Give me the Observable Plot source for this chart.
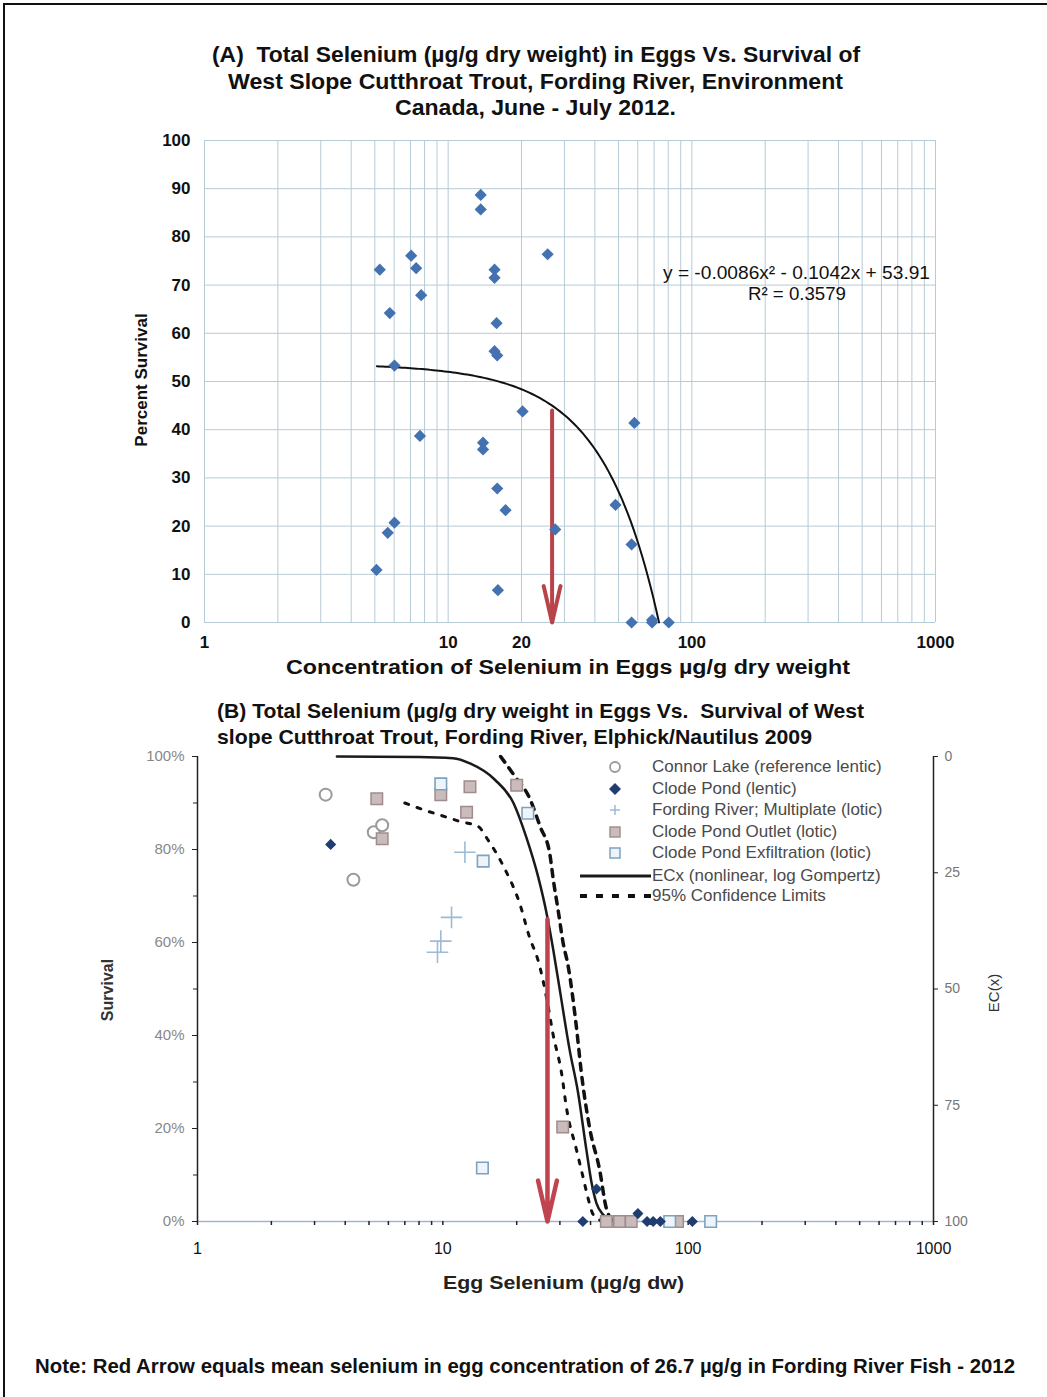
<!DOCTYPE html>
<html>
<head>
<meta charset="utf-8">
<script src="https://cdn.jsdelivr.net/npm/d3@7"></script>
<script src="https://cdn.jsdelivr.net/npm/@observablehq/plot@0.6"></script>
<style>
  html, body { margin:0; padding:0; background:#fff; }
  body { width:1047px; height:1397px; position:relative; overflow:hidden; font-family:"Liberation Sans", Arial, sans-serif; }
  .abs { position:absolute; white-space:nowrap; }
  .fit { position:absolute; white-space:nowrap; font-family:"Liberation Sans", Arial, sans-serif; font-weight:bold; color:#111; line-height:1.1; }
  .legrow { position:absolute; left:575px; height:20px; display:flex; align-items:center; font-size:17px; color:#4a4a4a; }
  .legrow svg { display:block; }
</style>
</head>
<body>
<div class="abs" style="left:3px;top:3px;width:1044px;height:1394px;border-top:2px solid #111;border-left:2px solid #111;"></div>

<!-- Panel A titles (fit: left edge, target width, center y) -->
<div class="fit" data-x="212" data-w="648" data-y="55" style="font-size:22px;">(A)&nbsp; Total Selenium (µg/g dry weight) in Eggs Vs. Survival of</div>
<div class="fit" data-x="228" data-w="615" data-y="82" style="font-size:22px;">West Slope Cutthroat Trout, Fording River, Environment</div>
<div class="fit" data-x="395" data-w="281" data-y="108" style="font-size:22px;">Canada, June - July 2012.</div>
<div id="chartA" class="abs" style="left:0;top:120px;"></div>
<div class="fit" data-x="663" data-w="267" data-y="273" style="font-size:19px;font-weight:normal;">y = -0.0086x² - 0.1042x + 53.91</div>
<div class="fit" data-x="748" data-w="98" data-y="294" style="font-size:19px;font-weight:normal;">R² = 0.3579</div>
<div class="fit" data-x="286" data-w="564" data-y="667" style="font-size:20px;">Concentration of Selenium in Eggs µg/g dry weight</div>
<div class="abs" style="left:142px;top:380px;transform:translate(-50%,-50%) rotate(-90deg);font-size:17px;font-weight:bold;color:#111;">Percent Survival</div>

<!-- Panel B -->
<div class="fit" data-x="217" data-w="647" data-y="711" style="font-size:21px;">(B) Total Selenium (µg/g dry weight in Eggs Vs.&nbsp; Survival of West</div>
<div class="fit" data-x="217" data-w="595" data-y="737" style="font-size:21px;">slope Cutthroat Trout, Fording River, Elphick/Nautilus 2009</div>
<div id="chartB" class="abs" style="left:0;top:745px;"></div>
<div id="legendB"></div>
<div class="fit" data-x="443" data-w="241" data-y="1283" style="font-size:19px;color:#222;">Egg Selenium (µg/g dw)</div>
<div class="abs" style="left:108px;top:990px;transform:translate(-50%,-50%) rotate(-90deg);font-size:16px;font-weight:bold;color:#333;">Survival</div>
<div class="abs" style="left:993px;top:993px;transform:translate(-50%,-50%) rotate(-90deg);font-size:15px;color:#333;">EC(x)</div>

<div class="fit" data-x="35" data-w="980" data-y="1366" style="font-size:21px;">Note: Red Arrow equals mean selenium in egg concentration of 26.7 µg/g in Fording River Fish - 2012</div>

<script>
// ---------------- Panel A data ----------------
const aX = [5.24,5.76,6.02,7.05,7.39,7.75,7.66,5.08,5.65,6.02,13.6,13.6,15.5,15.5,15.8,15.5,15.9,20.2,13.9,13.9,15.9,17.2,16.0,25.6,27.5,58.1,48.6,56.6,56.6,68.7,68.7,80.4];
const aY = [73.2,64.2,53.3,76.1,73.5,67.9,38.7,10.9,18.6,20.7,88.7,85.7,73.2,71.5,62.1,56.3,55.4,43.8,37.3,35.9,27.8,23.3,6.7,76.4,19.3,41.4,24.4,16.2,0,0.5,0,0];
const aXTickLabels = [1,10,20,50,100,1000];
const aYTicks = [0,10,20,30,40,50,60,70,80,90,100];
const trendCoef = [-0.0086, -0.1042, 53.91];   // y = a x^2 + b x + c (printed trendline)
const trendRange = [5.1, 73.35];
const meanSe = 26.7;
const arrowTopA = 44;

// ---------------- Panel B data ----------------
const connorX = [3.33,4.32,5.23,5.66];
const connorY = [91.8,73.5,83.7,85.2];
const clodeX = [3.49,37.2,42.3,62.4,68,72,77,104];
const clodeY = [81.1,0,7.0,1.7,0,0,0,0];
const fordingX = [12.3,10.85,9.81,9.51];
const fordingY = [79.4,65.4,60.3,57.9];
const outletX = [5.38,5.66,9.81,12.9,12.5,20.0,30.8,46.4,52.5,58.6,90.5];
const outletY = [90.9,82.3,91.8,93.5,88.0,93.8,20.3,0,0,0,0];
const exfilX = [9.81,22.2,14.6,14.5,84.1,123.5];
const exfilY = [94.1,87.8,77.5,11.5,0,0];
const ecxX = [3.7,8,11,12.9,16.3,19.4,21.9,24.5,26.5,28.2,30,32.9,35.5,38.5,40.5,42.3,45,48,57];
const ecxY = [100,99.9,99.6,98.5,95,90,82.6,74,66.2,58.4,49.7,36.8,28,15.3,8,3.9,1.5,0.5,0];
const upperX = [17.2,19.5,22.6,24.9,27.3,28.2,29.5,30.9,32.4,35,36.7,39.7,43.6,46.3,49];
const upperY = [100,96,91,85,79,73.5,67,60,55,42,32,20,11,3,0.3];
const lowerX = [7.0,8.5,10,11.8,13.9,15.3,17.9,20.6,22.6,24.5,26.5,28.1,30.5,31.9,35.1,37.3,39,41,44];
const lowerY = [90,88.4,87.2,86,85,82,75.8,68.3,61,56,48,40.4,31.8,24.5,15.3,9.5,5.2,1.5,0.2];
const bXTickLabels = [1,10,100,1000];
const bYTicks = [0,20,40,60,80,100];
const bYMinor = [0,10,20,30,40,50,60,70,80,90,100];
const ecTicks = [0,25,50,75,100];
const arrowTopB = 65;
const legendItems = ["Connor Lake (reference lentic)","Clode Pond (lentic)","Fording River; Multiplate (lotic)","Clode Pond Outlet (lotic)","Clode Pond Exfiltration (lotic)","ECx (nonlinear, log Gompertz)","95% Confidence Limits"];

// ---------------- fit text blocks to the reference widths ----------------
document.querySelectorAll(".fit").forEach(el => {
  const w = el.getBoundingClientRect().width, h = el.getBoundingClientRect().height;
  const s = (+el.dataset.w) / w;
  el.style.left = el.dataset.x + "px";
  el.style.top = (+el.dataset.y - h / 2) + "px";
  el.style.transformOrigin = "0 50%";
  el.style.transform = "scaleX(" + s + ")";
});

// ---------------- build tables ----------------
const zip = (xs, ys) => xs.map((x, i) => ({x, y: ys[i]}));
const ptsA = zip(aX, aY);
const logTicks = d3.scaleLog().domain([1, 1000]).ticks();
const trend = d3.range(0, 101).map(i => {
  const x = trendRange[0] * Math.pow(trendRange[1] / trendRange[0], i / 100);
  return {x, y: Math.max(0, trendCoef[0]*x*x + trendCoef[1]*x + trendCoef[2])};
});

const gridColor = "#b6cbd5";
const chartA = Plot.plot({
  width: 1047, height: 560,
  marginLeft: 204, marginRight: 112, marginTop: 20, marginBottom: 58,
  x: {type: "log", domain: [1, 1000]},
  y: {domain: [0, 100]},
  style: {fontFamily: "'Liberation Sans', Arial, sans-serif", fontSize: "17px", fontWeight: "bold", color: "#111", background: "transparent", overflow: "visible"},
  marks: [
    Plot.gridX(logTicks, {stroke: gridColor, strokeOpacity: 1, strokeWidth: 1}),
    Plot.gridY(aYTicks, {stroke: gridColor, strokeOpacity: 1, strokeWidth: 1}),
    Plot.axisX(aXTickLabels, {tickSize: 0, tickPadding: 13, tickFormat: d => String(d), label: null}),
    Plot.axisY(aYTicks, {tickSize: 0, tickPadding: 14, tickFormat: d => String(d), label: null}),
    Plot.line(trend, {x: "x", y: "y", stroke: "#111", strokeWidth: 2}),
    Plot.arrow([{x: meanSe, y1: arrowTopA, y2: 0}], {x: "x", y1: "y1", y2: "y2", stroke: "#b8434a", strokeWidth: 4, headLength: 14, headAngle: 26}),
    Plot.dot(ptsA, {x: "x", y: "y", symbol: "diamond2", fill: "#4472b0", r: 5.5})
  ]
});
document.getElementById("chartA").appendChild(chartA);

const chartB = Plot.plot({
  width: 1047, height: 545,
  marginLeft: 197, marginRight: 114, marginTop: 11, marginBottom: 69,
  x: {type: "log", domain: [1, 1000]},
  y: {domain: [0, 100]},
  style: {fontFamily: "'Liberation Sans', Arial, sans-serif", fontSize: "16px", color: "#111", background: "transparent", overflow: "visible"},
  marks: [
    Plot.ruleY([0], {stroke: "#9fb6c9", strokeWidth: 1.5}),
    Plot.ruleX([1], {stroke: "#222", strokeWidth: 1.5}),
    Plot.ruleX([1000], {stroke: "#222", strokeWidth: 1.5}),
    Plot.axisX(logTicks, {tickSize: 4, tickPadding: 17, stroke: "#222", strokeWidth: 1.5, tickFormat: d => bXTickLabels.includes(d) ? String(d) : "", label: null}),
    Plot.axisY(bYMinor, {tickSize: 4, stroke: "#222", tickFormat: () => "", label: null}),
    Plot.axisY(bYTicks, {tickSize: 5, tickPadding: 8, stroke: "#222", fill: "#888", fontSize: 15, tickFormat: d => d + "%", label: null}),
    Plot.axisY(ecTicks.map(v => 100 - v), {anchor: "right", tickSize: 4, tickPadding: 7, stroke: "#222", fill: "#777", fontSize: 14, tickFormat: d => String(100 - d), label: null}),
    Plot.line(zip(lowerX, lowerY), {x: "x", y: "y", curve: "monotone-x", stroke: "#111", strokeWidth: 3, strokeDasharray: "4,9"}),
    Plot.line(zip(upperX, upperY), {x: "x", y: "y", curve: "monotone-x", stroke: "#111", strokeWidth: 3.5, strokeDasharray: "7,7"}),
    Plot.line(zip(ecxX, ecxY), {x: "x", y: "y", curve: "monotone-x", stroke: "#1a1a1a", strokeWidth: 2.5}),
    Plot.arrow([{x: meanSe, y1: arrowTopB, y2: 0}], {x: "x", y1: "y1", y2: "y2", stroke: "#c0444f", strokeWidth: 4.5, headLength: 14, headAngle: 26}),
    Plot.dot(zip(connorX, connorY), {x: "x", y: "y", symbol: "circle", r: 6, fill: "white", stroke: "#9a9a9a", strokeWidth: 2}),
    Plot.dot(zip(fordingX, fordingY), {x: "x", y: "y", symbol: "plus", r: 7, stroke: "#9dbad6", strokeWidth: 1.6}),
    Plot.dot(zip(outletX, outletY), {x: "x", y: "y", symbol: "square", r: 6.5, fill: "#cbbcbc", stroke: "#a08c8c", strokeWidth: 1.5}),
    Plot.dot(zip(exfilX, exfilY), {x: "x", y: "y", symbol: "square", r: 6.5, fill: "#eef4f9", stroke: "#7fa2bf", strokeWidth: 1.6}),
    Plot.dot(zip(clodeX, clodeY), {x: "x", y: "y", symbol: "diamond2", r: 5, fill: "#1f3d70"})
  ]
});
document.getElementById("chartB").appendChild(chartB);

// ---------------- legend B ----------------
const legTops = [757, 779, 800, 822, 843, 866, 886];
const legSym = [
  '<circle cx="40" cy="10" r="5" fill="white" stroke="#9a9a9a" stroke-width="1.8"/>',
  '<path d="M40 4 L46 10 L40 16 L34 10 Z" fill="#1f3d70"/>',
  '<path d="M40 5 V15 M35 10 H45" stroke="#9dbad6" stroke-width="1.5"/>',
  '<rect x="35" y="5" width="10" height="10" fill="#cbbcbc" stroke="#a08c8c" stroke-width="1.4"/>',
  '<rect x="35" y="5" width="10" height="10" fill="#eef4f9" stroke="#7fa2bf" stroke-width="1.5"/>',
  '<line x1="5" y1="10" x2="76" y2="10" stroke="#1a1a1a" stroke-width="3"/>',
  '<line x1="5" y1="10" x2="76" y2="10" stroke="#111" stroke-width="4" stroke-dasharray="7,9"/>'
];
const leg = document.getElementById("legendB");
legendItems.forEach((t, i) => {
  const row = document.createElement("div");
  row.className = "legrow";
  row.style.top = legTops[i] + "px";
  row.innerHTML = '<svg width="77" height="20">' + legSym[i] + '</svg><span>' + t + '</span>';
  leg.appendChild(row);
});
</script>
</body>
</html>
